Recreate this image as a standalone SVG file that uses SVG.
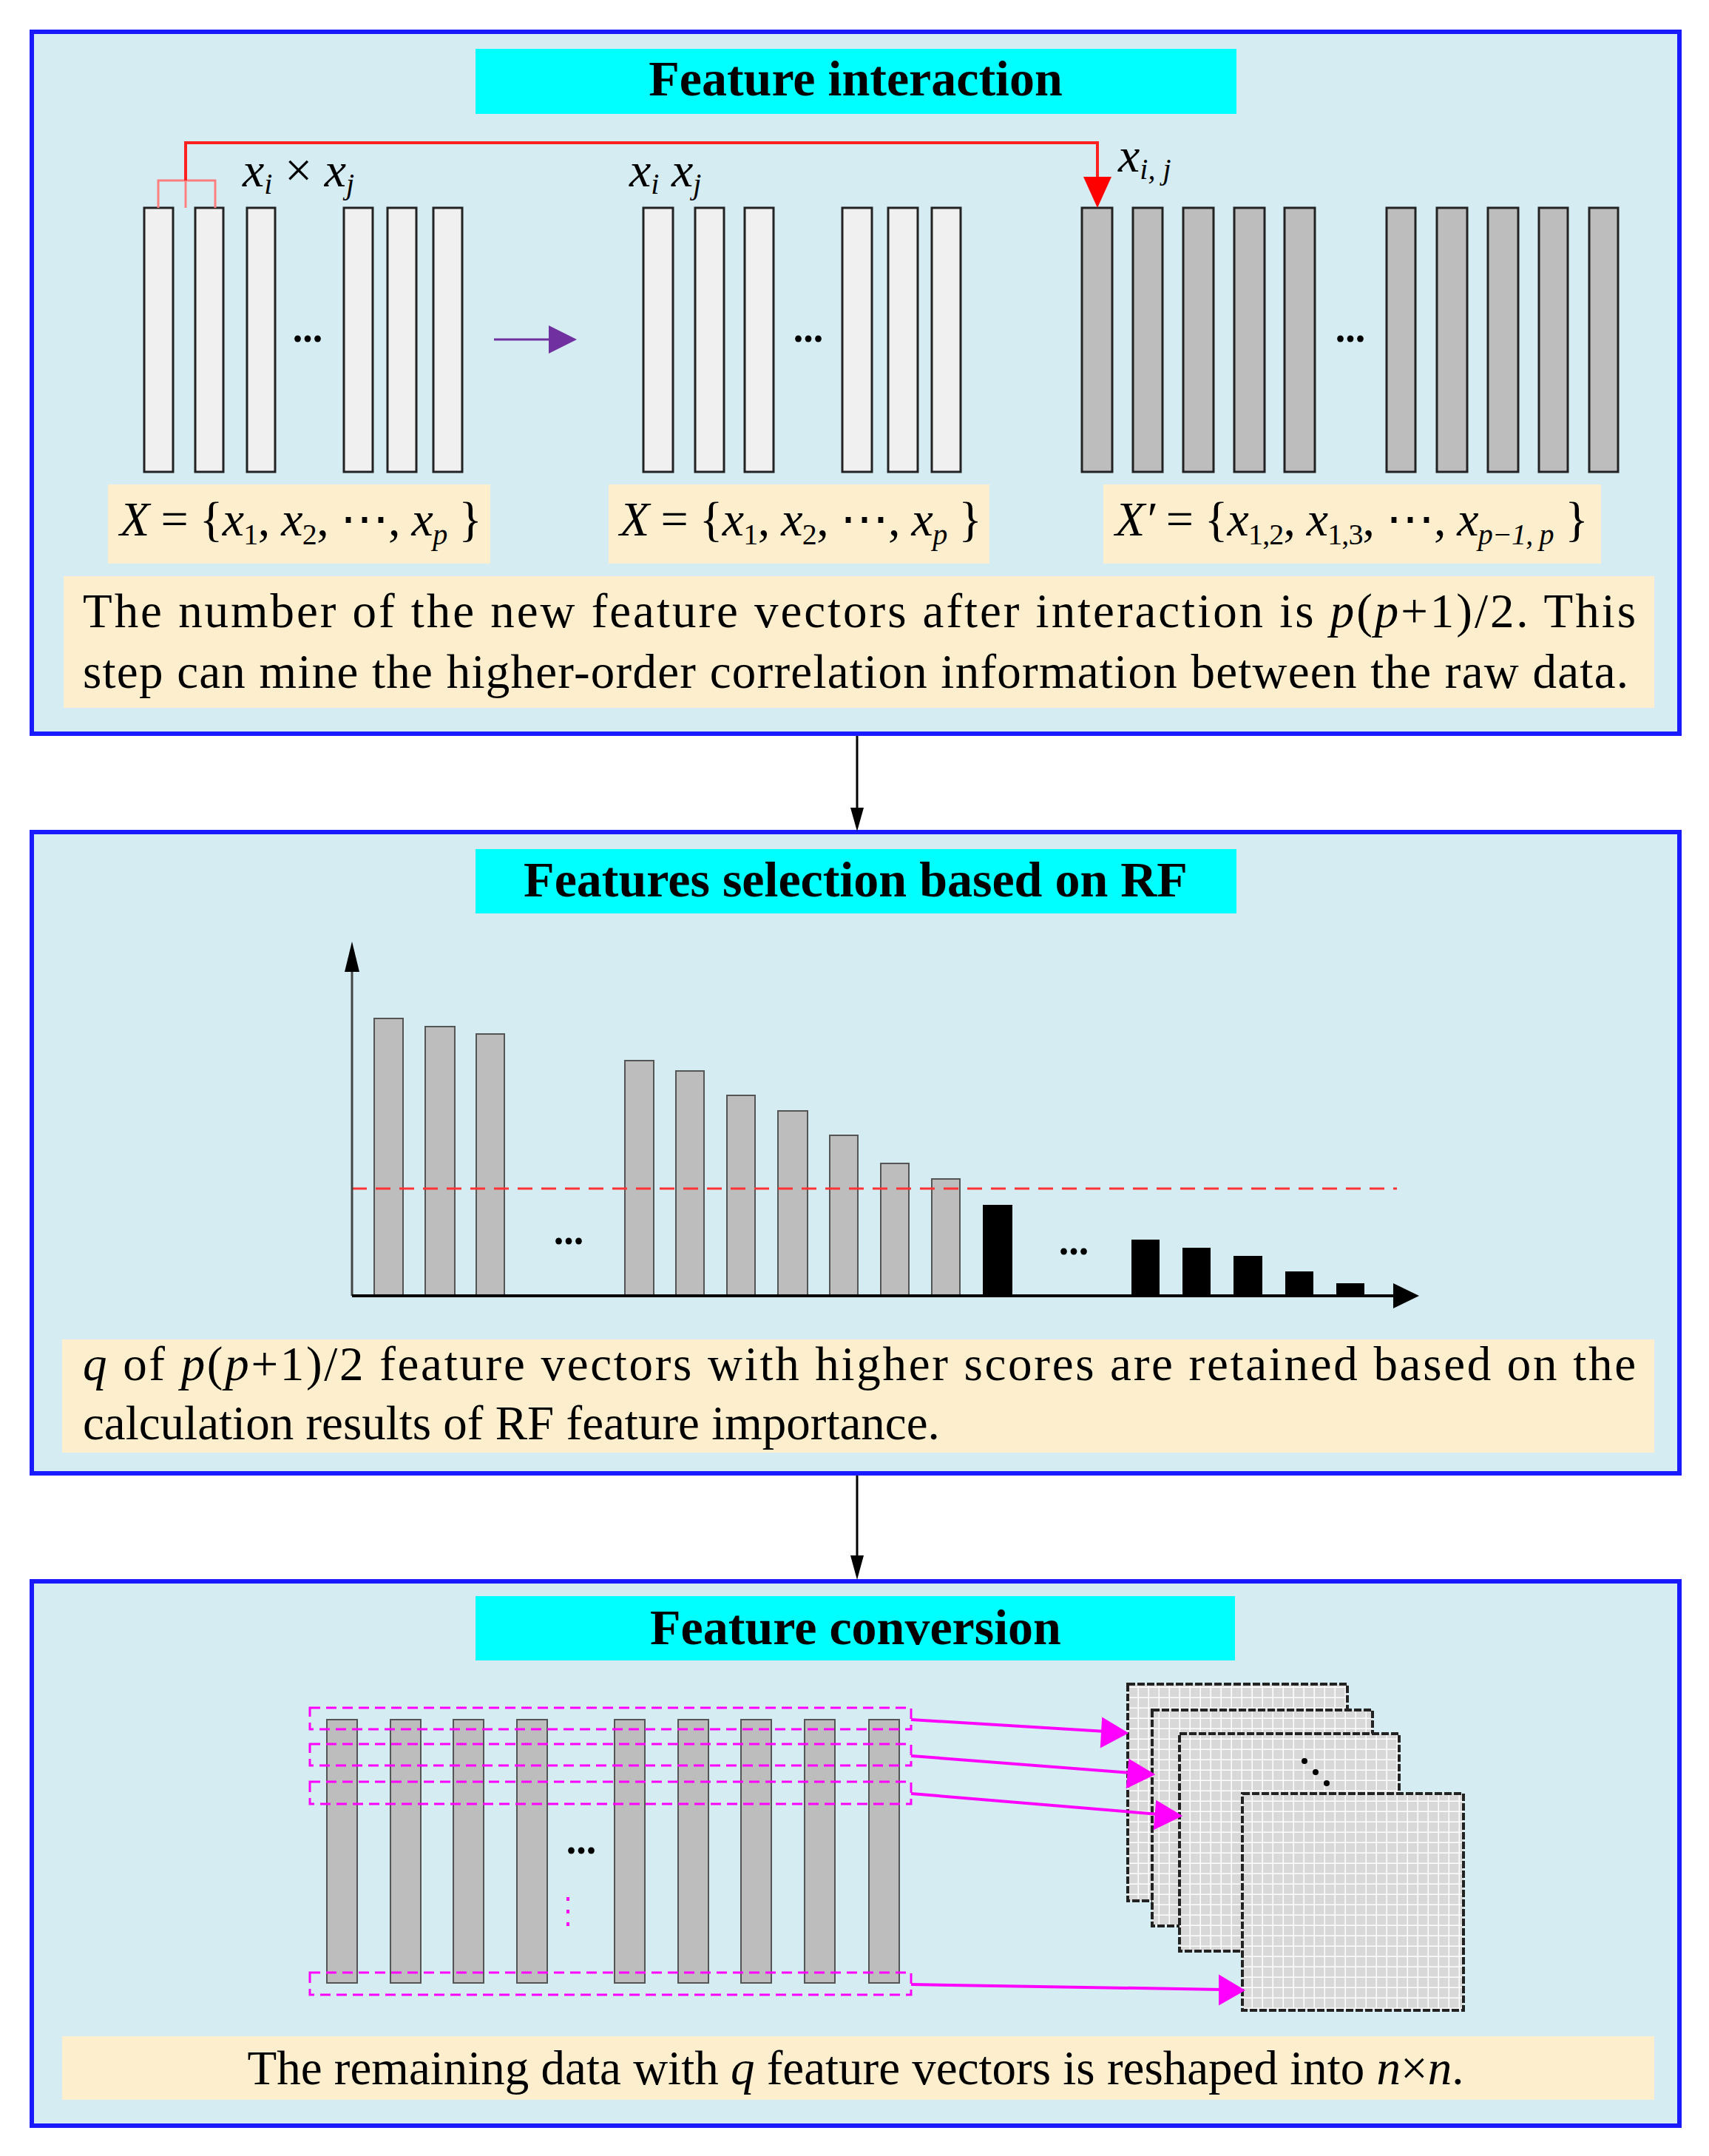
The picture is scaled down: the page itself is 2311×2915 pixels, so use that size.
<svg xmlns="http://www.w3.org/2000/svg" width="2311" height="2915" viewBox="0 0 2311 2915">
<style>
.panel{fill:#d4ecf2;stroke:#1a1aff;stroke-width:6}
.title{fill:#00ffff}
.tt{font-family:"Liberation Serif",serif;font-weight:bold;font-size:68px;text-anchor:middle}
.box{fill:#fdefcd}
.txt{font-family:"Liberation Serif",serif;font-size:65px}
.m{font-family:"Liberation Serif",serif;font-size:66px;font-style:italic}
.lb{fill:#f0f0f0;stroke:#222;stroke-width:3}
.db{fill:#bdbdbd;stroke:#222;stroke-width:3}
.gb{fill:#bdbdbd;stroke:#555;stroke-width:2}
.bk{fill:#000}
.dots{font-family:"Liberation Serif",serif;font-size:54px;font-weight:bold}
.mag{fill:none;stroke:#ff00ff;stroke-width:3;stroke-dasharray:14 8}
.grid{fill:url(#gp);stroke:#222;stroke-width:4;stroke-dasharray:10 3}
</style>
<defs>
<pattern id="gp" width="14" height="14" patternUnits="userSpaceOnUse"><rect width="14" height="14" fill="#d8d8d8"/><path d="M14 0V14M0 14H14" stroke="#fff" stroke-width="3"/></pattern>
</defs>

<g id="panel1">
<rect class="panel" x="43" y="43" width="2228" height="949"/>
<rect class="title" x="643" y="66" width="1029" height="88"/>
<text class="tt" x="1157" y="129">Feature interaction</text>
<rect class="lb" x="195" y="281" width="39" height="357"/>
<rect class="lb" x="264" y="281" width="38" height="357"/>
<rect class="lb" x="334" y="281" width="38" height="357"/>
<rect class="lb" x="465" y="281" width="39" height="357"/>
<rect class="lb" x="524" y="281" width="39" height="357"/>
<rect class="lb" x="586" y="281" width="39" height="357"/>
<text class="dots" x="416" y="462" text-anchor="middle">...</text>
<text class="m" x="328" y="252">x<tspan font-size="40" dy="10">i</tspan><tspan dy="-10" font-style="normal"> × </tspan>x<tspan font-size="40" dy="10">j</tspan></text>
<rect class="lb" x="870" y="281" width="40" height="357" stroke="#999"/>
<rect class="lb" x="940" y="281" width="39" height="357"/>
<rect class="lb" x="1007" y="281" width="39" height="357"/>
<rect class="lb" x="1139" y="281" width="40" height="357"/>
<rect class="lb" x="1201" y="281" width="40" height="357" stroke="#999"/>
<rect class="lb" x="1260" y="281" width="39" height="357"/>
<text class="dots" x="1093" y="462" text-anchor="middle">...</text>
<text class="m" x="851" y="252">x<tspan font-size="40" dy="10">i</tspan><tspan dy="-10">  x</tspan><tspan font-size="40" dy="10">j</tspan></text>
<rect class="db" x="1463" y="281" width="41" height="357"/>
<rect class="db" x="1532" y="281" width="40" height="357"/>
<rect class="db" x="1600" y="281" width="41" height="357"/>
<rect class="db" x="1669" y="281" width="41" height="357"/>
<rect class="db" x="1737" y="281" width="41" height="357"/>
<rect class="db" x="1875" y="281" width="39" height="357"/>
<rect class="db" x="1943" y="281" width="41" height="357"/>
<rect class="db" x="2012" y="281" width="41" height="357"/>
<rect class="db" x="2081" y="281" width="39" height="357"/>
<rect class="db" x="2149" y="281" width="39" height="357"/>
<text class="dots" x="1826" y="462" text-anchor="middle">...</text>
<text class="m" x="1512" y="232">x<tspan font-size="40" dy="10">i, j</tspan></text>
<rect class="box" x="146" y="655" width="517" height="107"/>
<text class="m" x="162" y="724" textLength="490">X<tspan font-style="normal"> = {</tspan>x<tspan font-size="40" dy="12" font-style="normal">1</tspan><tspan dy="-12" font-style="normal">, </tspan>x<tspan font-size="40" dy="12" font-style="normal">2</tspan><tspan dy="-12" font-style="normal">, ⋯, </tspan>x<tspan font-size="40" dy="12">p</tspan><tspan dy="-12" font-style="normal"> }</tspan></text>
<rect class="box" x="823" y="655" width="515" height="107"/>
<text class="m" x="838" y="724" textLength="490">X<tspan font-style="normal"> = {</tspan>x<tspan font-size="40" dy="12" font-style="normal">1</tspan><tspan dy="-12" font-style="normal">, </tspan>x<tspan font-size="40" dy="12" font-style="normal">2</tspan><tspan dy="-12" font-style="normal">, ⋯, </tspan>x<tspan font-size="40" dy="12">p</tspan><tspan dy="-12" font-style="normal"> }</tspan></text>
<rect class="box" x="1492" y="655" width="673" height="107"/>
<text class="m" x="1508" y="724" textLength="640">X′<tspan font-style="normal"> = {</tspan>x<tspan font-size="40" dy="12" font-style="normal">1,2</tspan><tspan dy="-12" font-style="normal">, </tspan>x<tspan font-size="40" dy="12" font-style="normal">1,3</tspan><tspan dy="-12" font-style="normal">, ⋯, </tspan>x<tspan font-size="40" dy="12">p−1, p</tspan><tspan dy="-12" font-style="normal"> }</tspan></text>
<rect class="box" x="86" y="779" width="2151" height="178"/>
<text class="txt" x="112" y="848" textLength="2100" lengthAdjust="spacing">The number of the new feature vectors after interaction is <tspan font-style="italic">p</tspan>(<tspan font-style="italic">p</tspan>+1)/2. This</text>
<text class="txt" x="112" y="930" textLength="2090" lengthAdjust="spacing">step can mine the higher-order correlation information between the raw data.</text>
</g>

<g id="panel2">
<rect class="panel" x="43" y="1125" width="2228" height="867"/>
<rect class="title" x="643" y="1148" width="1029" height="87"/>
<text class="tt" x="1157" y="1212">Features selection based on RF</text>
<rect class="gb" x="506" y="1377" width="39" height="375"/>
<rect class="gb" x="575" y="1388" width="40" height="364"/>
<rect class="gb" x="644" y="1398" width="38" height="354"/>
<rect class="gb" x="845" y="1434" width="39" height="318"/>
<rect class="gb" x="914" y="1448" width="38" height="304"/>
<rect class="gb" x="983" y="1481" width="38" height="271"/>
<rect class="gb" x="1052" y="1502" width="40" height="250"/>
<rect class="gb" x="1122" y="1535" width="38" height="217"/>
<rect class="gb" x="1191" y="1573" width="38" height="179"/>
<rect class="gb" x="1260" y="1594" width="38" height="158"/>
<rect class="bk" x="1329" y="1629" width="40" height="123"/>
<rect class="bk" x="1530" y="1676" width="38" height="76"/>
<rect class="bk" x="1599" y="1687" width="38" height="65"/>
<rect class="bk" x="1668" y="1698" width="39" height="54"/>
<rect class="bk" x="1738" y="1719" width="38" height="33"/>
<rect class="bk" x="1807" y="1735" width="38" height="17"/>
<line x1="476" y1="1607" x2="1889" y2="1607" stroke="#ff3333" stroke-width="3" stroke-dasharray="20 12"/>
<text class="dots" x="769" y="1682" text-anchor="middle" font-size="44">...</text>
<text class="dots" x="1452" y="1696" text-anchor="middle" font-size="44">...</text>
<line x1="476" y1="1752" x2="476" y2="1300" stroke="#444" stroke-width="3"/>
<path d="M466,1314 L476,1273 L486,1314 z"/>
<line x1="476" y1="1752" x2="1890" y2="1752" stroke="#000" stroke-width="4"/>
<path d="M1884,1735 L1919,1752 L1884,1769 z"/>
<rect class="box" x="84" y="1811" width="2153" height="153"/>
<text class="txt" x="112" y="1866" textLength="2100" lengthAdjust="spacing"><tspan font-style="italic">q</tspan> of <tspan font-style="italic">p</tspan>(<tspan font-style="italic">p</tspan>+1)/2 feature vectors with higher scores are retained based on the</text>
<text class="txt" x="112" y="1946">calculation results of RF feature importance.</text>
</g>

<g id="panel3">
<rect class="panel" x="43" y="2138" width="2228" height="736"/>
<rect class="title" x="643" y="2158" width="1027" height="87"/>
<text class="tt" x="1157" y="2223">Feature conversion</text>
<rect class="grid" x="1525" y="2277" width="297" height="293"/>
<rect class="grid" x="1558" y="2312" width="298" height="292"/>
<rect class="grid" x="1595" y="2344" width="297" height="294"/>
<rect class="grid" x="1680" y="2425" width="299" height="293"/>
<circle cx="1764" cy="2381" r="4"/><circle cx="1779" cy="2396" r="4"/><circle cx="1794" cy="2411" r="4"/>
<rect class="gb" x="442" y="2325" width="41" height="356"/>
<rect class="gb" x="528" y="2325" width="41" height="356"/>
<rect class="gb" x="613" y="2325" width="41" height="356"/>
<rect class="gb" x="699" y="2325" width="41" height="356"/>
<rect class="gb" x="831" y="2325" width="41" height="356"/>
<rect class="gb" x="917" y="2325" width="41" height="356"/>
<rect class="gb" x="1002" y="2325" width="41" height="356"/>
<rect class="gb" x="1088" y="2325" width="41" height="356"/>
<rect class="gb" x="1175" y="2325" width="41" height="356"/>
<text class="dots" x="786" y="2506" text-anchor="middle" font-size="44">...</text>
<line x1="768" y1="2565" x2="768" y2="2606" stroke="#ff00ff" stroke-width="4" stroke-dasharray="5 12"/>
<rect class="mag" x="419" y="2309" width="813" height="29"/>
<rect class="mag" x="419" y="2358" width="813" height="29"/>
<rect class="mag" x="419" y="2409" width="813" height="30"/>
<rect class="mag" x="419" y="2667" width="813" height="30"/>
<rect class="box" x="84" y="2753" width="2153" height="86"/>
<text class="txt" x="1157" y="2818" text-anchor="middle" font-size="66">The remaining data with <tspan font-style="italic">q</tspan> feature vectors is reshaped into <tspan font-style="italic">n</tspan>×<tspan font-style="italic">n</tspan>.</text>
</g>

<g id="connectors">
<polyline points="251,281 251,244" fill="none" stroke="#ff8080" stroke-width="3"/>
<polyline points="214,281 214,244 291,244 291,281" fill="none" stroke="#ff8080" stroke-width="3"/>
<polyline points="251,244 251,193 1484,193 1484,245" fill="none" stroke="#ff2020" stroke-width="4"/>
<path d="M1465,239 L1503,239 L1484,281 z" fill="#ff0000"/>
<line x1="668" y1="459" x2="750" y2="459" stroke="#7030a0" stroke-width="3"/>
<path d="M742,440 L780,459 L742,478 z" fill="#7030a0"/>
<line x1="1159" y1="995" x2="1159" y2="1100" stroke="#000" stroke-width="3"/>
<path d="M1150,1092 L1159,1124 L1168,1092 z"/>
<line x1="1159" y1="1995" x2="1159" y2="2110" stroke="#000" stroke-width="3"/>
<path d="M1150,2103 L1159,2136 L1168,2103 z"/>
<g stroke="#ff00ff" stroke-width="4" fill="#ff00ff">
<line x1="1232" y1="2325" x2="1495" y2="2341"/><path d="M1522,2343 L1492,2325 L1490,2360 z"/>
<line x1="1232" y1="2374" x2="1530" y2="2397"/><path d="M1558,2399 L1528,2381 L1525,2415 z"/>
<line x1="1232" y1="2425" x2="1567" y2="2453"/><path d="M1595,2455 L1565,2437 L1562,2471 z"/>
<line x1="1232" y1="2683" x2="1652" y2="2690"/><path d="M1680,2691 L1650,2673 L1650,2708 z"/>
</g>
</g>
</svg>
